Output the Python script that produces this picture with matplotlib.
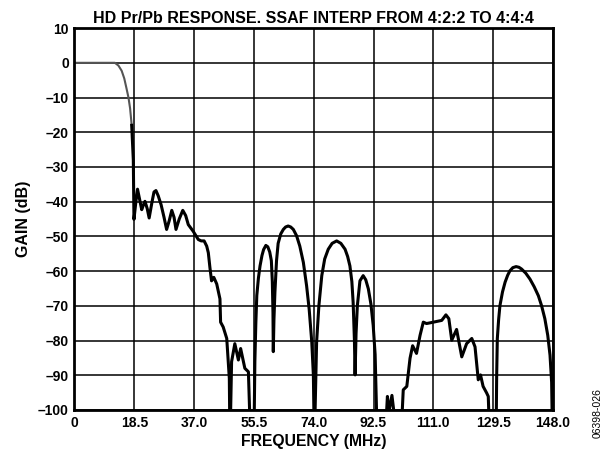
import numpy as np
import matplotlib
matplotlib.use("Agg")
import matplotlib.pyplot as plt

# Frequency (MHz) and gain (dB)
freq = [0, 12.5, 13.6, 14.6, 15.4, 16.1, 16.7, 17.2, 17.7, 18.2, 18.4, 19.0, 19.5, 20.2,
        20.8, 21.3, 21.8, 22.5, 23.1, 24.0, 24.6, 25.2, 25.9, 26.8, 27.7,
        28.5, 29.3, 30.1, 30.8, 31.4, 32.4, 33.5, 34.4, 35.2, 36.7, 38.3, 39.2, 40.1, 40.9,
        41.4, 41.9, 42.4, 43.1, 44.0,
        45.0, 45.2, 46.0, 47.1, 47.9, 48.1, 48.6, 49.6, 50.7, 51.4, 52.7, 53.8, 54.5,
        55.5, 55.8, 56.1, 56.4, 56.9, 57.4, 58.0, 58.5, 59.2, 59.8, 60.4, 60.9, 61.2, 61.4,
        61.5, 61.7, 62.0, 62.5, 63.0, 63.8, 64.6, 65.3, 66.1, 66.9, 67.7, 68.7,
        69.7, 70.8, 71.8, 72.6, 73.4, 73.9, 74.2, 74.9, 75.6, 76.5, 77.4, 78.5, 79.7, 81.1,
        82.4, 83.7, 84.5, 85.2, 85.8, 86.2, 86.6, 86.8, 87.1, 87.5,
        88.3, 89.3, 90.1, 90.9, 91.7, 92.4, 93.0, 93.7, 96.0, 96.8, 97.3, 98.2, 98.8,
        100.9, 101.7, 102.8,
        103.8, 104.6, 105.8, 106.9, 107.9, 108.9, 110.0, 112.0, 113.6, 114.9, 115.8,
        116.7, 118.2, 119.8, 121.3, 122.9, 123.9, 124.9, 125.6, 126.4, 127.5, 128.0,
        128.5, 130.4, 130.6, 130.8, 131.2, 131.6, 132.4, 133.2, 134.0, 134.7, 135.6, 136.6,
        137.5, 138.3, 139.6, 140.9, 142.2, 143.5, 144.5, 145.5, 146.4, 147.1, 147.6, 147.9]
gain = [0, 0, -0.8, -2.3, -4.5, -7.4, -10.0, -13.1, -18, -28, -45.1, -40.0, -36.4, -39.5,
        -42.3, -41.0, -39.9, -42.0, -44.7, -40.0, -37.2, -36.8, -38.3, -40.9, -44.5,
        -48, -45.5, -42.5, -44.5, -48, -45.0, -42.5, -44.0, -46.6, -48.5, -50.9, -51.3, -51.3, -52.8,
        -54.7, -59.0, -62.8, -61.8, -63.7,
        -68, -74.7, -76.1, -79.4, -90.9, -110, -86.1, -80.9, -85.6, -82.3, -88, -89, -110,
        -110, -86, -75, -67, -62, -58.5, -55.5, -53.8, -52.6, -53.0, -54.5, -57.0, -63.0, -72.0,
        -83.2, -74.0, -66.1, -57.0, -52.0, -49.3, -48, -47.3, -47.0, -47.3, -48, -49.8,
        -52.8, -57.5, -64.2, -71.0, -80.4, -90.0, -110, -80.4, -70.0, -61.3, -56.5, -53.7, -52.0, -51.3,
        -52.0, -53.7, -55.8, -58.5, -63.0, -69, -80.0, -89.9, -78.0, -70,
        -62.8, -61.3, -62.5, -65.1, -69.5, -75.6, -84.0, -110, -110, -96.1, -100.5, -95.8, -100.5,
        -110, -94.2, -93.2,
        -85.1, -81.5, -83.7, -78.5, -74.7, -75.1, -74.9, -74.5, -74.2, -72.6, -73.7,
        -79.9, -76.8, -84.7, -80.9, -79.4, -81.8, -91.3, -89.9, -93.2, -95.1, -96.1,
        -110, -110, -90.0, -79.4, -74.0, -70, -66.0, -63.2, -61.2, -59.9, -59.0, -58.7,
        -58.9, -59.4, -60.6, -62.3, -64.5, -67.1, -70.0, -73.7, -78.5, -84.2, -92.0, -110]

x_ticks = [0, 18.5, 37.0, 55.5, 74.0, 92.5, 111.0, 129.5, 148.0]
x_labels = ["0", "18.5", "37.0", "55.5", "74.0", "92.5", "111.0", "129.5", "148.0"]
y_ticks = list(range(-100, 11, 10))
y_labels = [("\u2013" + str(-v)) if v < 0 else str(v) for v in y_ticks]

plt.rcParams['font.family'] = ['Liberation Sans', 'DejaVu Sans']

fig = plt.figure(figsize=(6.13, 4.59), dpi=100)
ax = fig.add_axes([0.1215, 0.1068, 0.7805, 0.832])

f = np.array(freq)
g = np.array(gain)
n0 = 9
ax.plot(f[:n0], g[:n0], color='#555555', lw=1.5, solid_joinstyle='round')
ax.plot(f[n0 - 1:], g[n0 - 1:], color='black', lw=2.2, solid_joinstyle='round')

ax.set_xlim(0, 148)
ax.set_ylim(-100, 10)
ax.set_xticks(x_ticks)
ax.set_xticklabels(x_labels)
ax.set_yticks(y_ticks)
ax.set_yticklabels(y_labels)
ax.tick_params(length=0, pad=4, labelsize=10)
for lab in ax.get_xticklabels() + ax.get_yticklabels():
    lab.set_fontweight('bold')
ax.grid(True, color='black', lw=1.1)
ax.set_axisbelow(True)
for s in ax.spines.values():
    s.set_linewidth(2)

ax.set_xlabel("FREQUENCY (MHz)", fontsize=11.3, fontweight='bold', labelpad=3)
ax.set_ylabel("GAIN (dB)", fontsize=11.5, fontweight='bold', labelpad=5)
ax.set_title("HD Pr/Pb RESPONSE. SSAF INTERP FROM 4:2:2 TO 4:4:4", fontsize=11.5,
             fontweight='bold', pad=4)
fig.text(0.975, 0.10, "06398-026", rotation=90, fontsize=7.5, ha='center', va='center')

fig.savefig("out.png", dpi=100)
